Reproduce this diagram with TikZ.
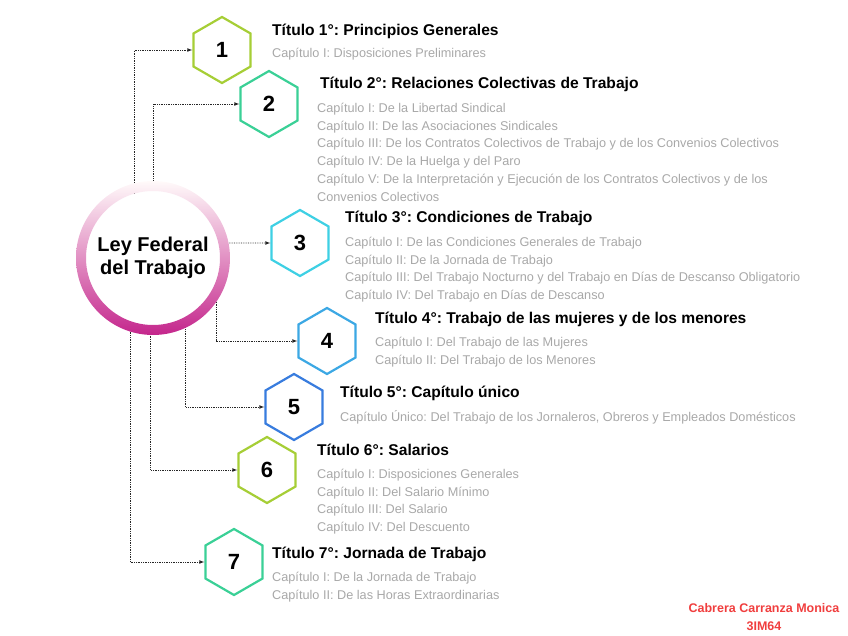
\documentclass[tikz,border=0pt]{standalone}
\usepackage{fontspec}
\setmainfont{Liberation Sans}
\usetikzlibrary{positioning,calc,shapes.geometric}

\definecolor{hexlime}{RGB}{166,206,54}
\definecolor{hexmint}{RGB}{58,208,150}
\definecolor{hexcyan}{RGB}{62,208,228}
\definecolor{hexsky}{RGB}{60,168,228}
\definecolor{hexblue}{RGB}{56,124,222}
\definecolor{subgray}{RGB}{168,168,168}
\definecolor{ringpink}{RGB}{196,38,140}
\definecolor{signred}{RGB}{240,62,62}
\frenchspacing

\begin{document}
\begin{tikzpicture}[x=1pt,y=-1pt,
		hexa/.style={draw, regular polygon, regular polygon sides=6, shape border rotate=30, minimum size=66pt, inner sep=0pt, line width=2.2pt, fill=white, font=\fontsize{22}{24}\selectfont\bfseries},
		hub/.style={circle, fill=white, minimum size=134pt, inner sep=0pt, align=center, font=\fontsize{20}{23}\selectfont\bfseries},
		title/.style={anchor=base west, inner sep=0pt, font=\fontsize{15.6}{17}\selectfont\bfseries},
		sub/.style={anchor=north west, inner sep=0pt, align=left, text=subgray, font=\fontsize{12.7}{17.7}\selectfont},
		line/.style={-latex, densely dotted, line width=0.75pt, black!85}
		]
		\useasboundingbox (0,0) rectangle (848,636);
		
		% ======================
		% Ley Federal
		% ======================
		\node[hub] (hub) at (153,258) {Ley Federal\\del Trabajo};
		
		% ======================
		% TITULOS
		% ======================
		\node[hexa, draw=hexlime] (h1) at (222,50) {1};
		\node[hexa, draw=hexmint] (h2) at (269,104) {2};
		\node[hexa, draw=hexcyan] (h3) at (300,243) {3};
		\node[hexa, draw=hexsky] (h4) at (327,341) {4};
		\node[hexa, draw=hexblue] (h5) at (294,407) {5};
		\node[hexa, draw=hexlime] (h6) at (267,470) {6};
		\node[hexa, draw=hexmint] (h7) at (234,562) {7};
		
		% ======================
		% TEXTOS
		% ======================
		\node[title] (t1) at (272,36) {Título 1°: Principios Generales};
		\node[sub] (s1) at (272,48) {Capítulo I: Disposiciones Preliminares};
		
		\node[title] (t2) at (320,89) {Título 2°: Relaciones Colectivas de Trabajo};
		\node[sub] (s2) at (317,103) {Capítulo I: De la Libertad Sindical\\Capítulo II: De las Asociaciones Sindicales\\Capítulo III: De los Contratos Colectivos de Trabajo y de los Convenios Colectivos\\Capítulo IV: De la Huelga y del Paro\\Capítulo V: De la Interpretación y Ejecución de los Contratos Colectivos y de los\\Convenios Colectivos};
		
		\node[title] (t3) at (345,223) {Título 3°: Condiciones de Trabajo};
		\node[sub] (s3) at (345,237) {Capítulo I: De las Condiciones Generales de Trabajo\\Capítulo II: De la Jornada de Trabajo\\Capítulo III: Del Trabajo Nocturno y del Trabajo en Días de Descanso Obligatorio\\Capítulo IV: Del Trabajo en Días de Descanso};
		
		\node[title] (t4) at (375,323) {Título 4°: Trabajo de las mujeres y de los menores};
		\node[sub] (s4) at (375,337) {Capítulo I: Del Trabajo de las Mujeres\\Capítulo II: Del Trabajo de los Menores};
		
		\node[title] (t5) at (340,397) {Título 5°: Capítulo único};
		\node[sub] (s5) at (340,410) {Capítulo Único: Del Trabajo de los Jornaleros, Obreros y Empleados Domésticos};
		
		\node[title] (t6) at (317,455) {Título 6°: Salarios};
		\node[sub] (s6) at (317,469) {Capítulo I: Disposiciones Generales\\Capítulo II: Del Salario Mínimo\\Capítulo III: Del Salario\\Capítulo IV: Del Descuento};
		
		\node[title] (t7) at (272,558) {Título 7°: Jornada de Trabajo};
		\node[sub] (s7) at (272,572) {Capítulo I: De la Jornada de Trabajo\\Capítulo II: De las Horas Extraordinarias};
		
		% ======================
		% CONNECTIONS
		% ======================
		\draw[line] (hub.106) |- (h1);
		\draw[line] (hub.90) |- (h2);
		\draw[line] (h3.west -| hub.east) -- (h3);
		\draw[line] (hub.-20) |- (h4);
		\draw[line] (hub.-61) |- (h5);
		\draw[line] (hub.-92) |- (h6);
		\draw[line] (hub.-110) |- (h7);
		
		% ring over the connector ends
		\shade[even odd rule, top color=pink!8, bottom color=ringpink] (hub.center) circle (77) (hub.center) circle (67);
		
		% ======================
		% FIRMA
		% ======================
		\node[text=signred, align=center, font=\fontsize{12.5}{18}\selectfont\bfseries] (sign) at (764,617) {Cabrera Carranza Monica\\3IM64};
		
	\end{tikzpicture}
\end{document}
